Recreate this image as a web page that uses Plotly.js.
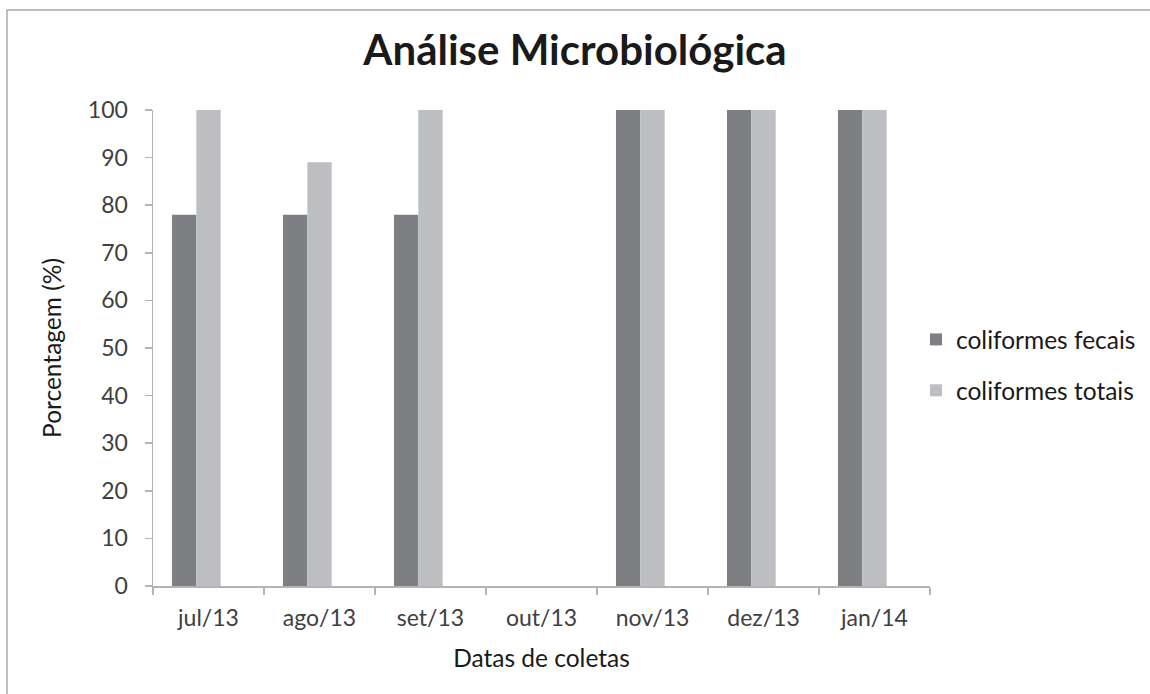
<!DOCTYPE html>
<html>
<head>
<meta charset="utf-8">
<script src="https://cdn.plot.ly/plotly-3.0.1.min.js"></script>
<style>
html,body{margin:0;padding:0;background:#fff;}
#chart{width:1150px;height:694px;}
</style>
</head>
<body>
<div id="chart"></div>
<script>
var categories = ["jul/13", "ago/13", "set/13", "out/13", "nov/13", "dez/13", "jan/14"];
var coliformesFecais = [78, 78, 78, null, 100, 100, 100];
var coliformesTotais = [100, 89, 100, null, 100, 100, 100];
var serieVazia = [null, null, null, null, null, null, null];

var FONT = "Lato, 'Open Sans', sans-serif";
var W = 1150, H = 694, L = 153, R = 930, T = 110, B = 586;
var pw = R - L, ph = B - T;

var traces = [
  {type: "bar", name: "coliformes fecais", x: categories, y: coliformesFecais,
   marker: {color: "#7e7f83"}, legendgroup: "a"},
  {type: "bar", name: "coliformes totais", x: categories, y: coliformesTotais,
   marker: {color: "#bdbec1"}, legendgroup: "b"},
  {type: "bar", name: "", x: categories, y: serieVazia,
   marker: {color: "#a0a0a0"}, showlegend: false, legendgroup: "c"}
];

var axisColor = "#b4b4b4";
var layout = {
  width: W, height: H,
  margin: {l: L, r: W - R, t: T, b: H - B, pad: 0, autoexpand: false},
  paper_bgcolor: "#ffffff", plot_bgcolor: "#ffffff",
  font: {family: FONT, color: "#404040"},
  barmode: "group", bargap: 0.342, bargroupgap: 0,
  showlegend: true,
  title: {text: "<b>Análise Microbiológica</b>", font: {family: FONT, size: 42, color: "#1a1a1a"},
          xref: "container", x: 0.5, xanchor: "center", yref: "container", y: 1 - 50/H, yanchor: "middle"},
  xaxis: {type: "category", tickson: "boundaries", ticks: "outside", ticklen: 7, tickwidth: 1.5,
          tickcolor: axisColor, showline: true, linecolor: axisColor, linewidth: 1.5,
          showgrid: false, zeroline: false, tickfont: {size: 23, color: "#404040"},
          ticklabelstandoff: 11, automargin: false,
          title: {text: "Datas de coletas", font: {size: 24.5, color: "#1a1a1a"}, standoff: 20}},
  yaxis: {range: [0, 100], dtick: 10, ticks: "outside", ticklen: 7, tickwidth: 1.5,
          tickcolor: axisColor, showline: true, linecolor: axisColor, linewidth: 1.5,
          showgrid: false, zeroline: false, tickfont: {size: 23, color: "#404040"},
          ticklabelstandoff: 12, automargin: false,
          title: {text: "Porcentagem (%)", font: {size: 24.5, color: "#1a1a1a"}, standoff: 19}},
  legend: {x: (916 - L)/pw, xanchor: "left", y: 1 - (365 - T)/ph, yanchor: "middle",
           font: {size: 24.5, color: "#1a1a1a"}, traceorder: "grouped", tracegroupgap: 16,
           bgcolor: "rgba(0,0,0,0)", itemclick: false},
  shapes: [{type: "rect", xref: "paper", yref: "paper",
            x0: (7 - L)/pw, x1: (1165 - L)/pw, y0: (B - 710)/ph, y1: (B - 10)/ph,
            line: {color: "#ababab", width: 1.5}, fillcolor: "rgba(0,0,0,0)", layer: "below"}]
};

Plotly.newPlot("chart", traces, layout, {displayModeBar: false, staticPlot: true});
</script>
</body>
</html>
